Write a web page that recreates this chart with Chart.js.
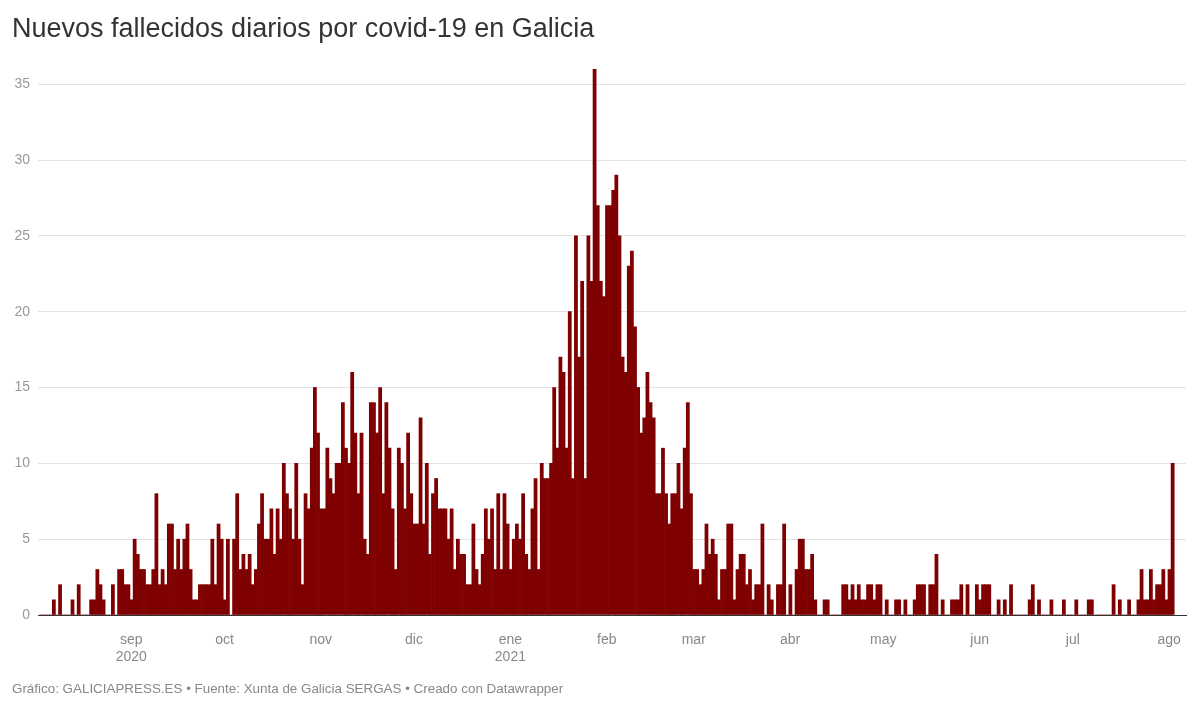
<!DOCTYPE html>
<html lang="es">
<head>
<meta charset="utf-8">
<title>Nuevos fallecidos diarios por covid-19 en Galicia</title>
<script src="https://cdn.jsdelivr.net/npm/chart.js@4.4.1/dist/chart.umd.min.js"></script>
<style>
    body { margin: 0; background: #fff; font-family: "Liberation Sans", Arial, sans-serif; }
    #title { position: absolute; left: 12px; top: 12px; font-size: 27px; line-height: 32px; color: #333; white-space: nowrap; }
    #wrap { position: absolute; left: 0; top: 0; width: 1199px; height: 709px; }
    #footer { position: absolute; left: 12px; top: 681px; font-size: 13.4px; line-height: 16px; color: #888; white-space: nowrap; }
</style>
</head>
<body>
<div id="wrap"><canvas id="chart"></canvas></div>
<div id="title">Nuevos fallecidos diarios por covid-19 en Galicia</div>
<div id="footer">Gráfico: GALICIAPRESS.ES • Fuente: Xunta de Galicia SERGAS • Creado con Datawrapper</div>
<script>
(function() {

    /*Daily deaths, one array per month (first value = 2 ago 2020)*/
    var ago2020 = [0,0,0,0,1,0,2,0,0,0,1,0,2,0,0,0,1,1,3,2,1,0,0,2,0,3,3,2,2,1];
    var sep2020 = [5,4,3,3,2,2,3,8,2,3,2,6,6,3,5,3,5,6,3,1,1,2,2,2,2,5,2,6,5,1];
    var oct2020 = [5,0,5,8,3,4,3,4,2,3,6,8,5,5,7,4,7,5,10,8,7,5,10,5,2,8,7,11,15,12,7];
    var nov2020 = [7,11,9,8,10,10,14,11,10,16,12,8,12,5,4,14,14,12,15,8,14,11,7,3,11,10,7,12,8,6];
    var dic2020 = [6,13,6,10,4,8,9,7,7,7,5,7,3,5,4,4,2,2,6,3,2,4,7,5,7,3,8,3,8,6,3];
    var ene2021 = [5,6,5,8,4,3,7,9,3,10,9,9,10,15,11,17,16,11,20,9,25,17,22,9,25,22,36,27,22,21,27];
    var feb2021 = [27,28,29,25,17,16,23,24,19,15,12,13,16,14,13,8,8,11,8,6,8,8,10,7,11,14,8,3];
    var mar2021 = [3,2,3,6,4,5,4,1,3,3,6,6,1,3,4,4,2,3,1,2,2,6,0,2,1,0,2,2,6,0,2];
    var abr2021 = [0,3,5,5,3,3,4,1,0,0,1,1,0,0,0,0,2,2,1,2,1,2,1,1,2,2,1,2,2,0];
    var may2021 = [1,0,0,1,1,0,1,0,0,1,2,2,2,0,2,2,4,0,1,0,0,1,1,1,2,0,2,0,0,2,1];
    var jun2021 = [2,2,2,0,0,1,0,1,0,2,0,0,0,0,0,1,2,0,1,0,0,0,1,0,0,0,1,0,0,0];
    var jul2021 = [1,0,0,0,1,1,0,0,0,0,0,0,2,0,1,0,0,1,0,0,1,3,1,1,3,1,2,2,3,1,3];
    var ago2021 = [10];

    /*Tick labels*/
    var monthLabels = ['sep','oct','nov','dic','ene','feb','mar','abr','may','jun','jul','ago'];
    var yearLabels  = ['2020','','','','2021','','','','','','',''];
    var yTicks = [0,5,10,15,20,25,30,35];

    /*Build series*/
    var months = [ago2020, sep2020, oct2020, nov2020, dic2020, ene2021,
                  feb2021, mar2021, abr2021, may2021, jun2021, jul2021, ago2021];
    var values = [];
    var monthStarts = [];
    months.forEach(function(m, i){
        if (i > 0) monthStarts.push(values.length);
        values = values.concat(m);
    });
    /*bar sits just right of its day tick, like the original*/
    var points = values.map(function(v, i){ return {x: i + 1.1, y: v}; });

    /*White background*/
    var bgPlugin = {
        id: 'bg',
        beforeDraw: function(chart){
            var ctx = chart.ctx;
            ctx.save();
            ctx.fillStyle = '#fff';
            ctx.fillRect(0, 0, chart.width, chart.height);
            ctx.restore();
        }
    };

    var tickFont = {family: '"Liberation Sans", Arial, sans-serif', size: 14};

    new Chart(document.getElementById('chart'), {
        type: 'bar',
        data: {
            datasets: [{
                data: points,
                backgroundColor: '#7f0000',
                borderWidth: 0,
                barPercentage: 1,
                categoryPercentage: 1
            }]
        },
        plugins: [bgPlugin],
        options: {
            responsive: true,
            maintainAspectRatio: false,
            devicePixelRatio: 1,
            animation: false,
            layout: {padding: {top: 69, right: 13, bottom: 34, left: 0}},
            plugins: {legend: {display: false}, tooltip: {enabled: false}},
            scales: {
                x: {
                    type: 'linear',
                    min: 0,
                    max: 369.4,
                    offset: false,
                    z: 1,
                    grid: {display: false},
                    border: {display: true, color: '#333', width: 1},
                    afterBuildTicks: function(scale){
                        scale.ticks = monthStarts.map(function(v){ return {value: v}; });
                    },
                    afterFit: function(scale){ scale.height = 60; },
                    ticks: {
                        autoSkip: false,
                        maxRotation: 0,
                        padding: 9,
                        color: '#888',
                        font: tickFont,
                        callback: function(value){
                            var i = monthStarts.indexOf(value);
                            if (i == -1) return '';
                            return yearLabels[i] ? [monthLabels[i], yearLabels[i]] : monthLabels[i];
                        }
                    }
                },
                y: {
                    min: 0,
                    max: 36,
                    grid: {
                        drawTicks: false,
                        color: function(ctx){ return ctx.tick && ctx.tick.value === 0 ? 'rgba(0,0,0,0)' : '#e3e3e3'; }
                    },
                    border: {display: false},
                    afterBuildTicks: function(scale){
                        scale.ticks = yTicks.map(function(v){ return {value: v}; });
                    },
                    afterFit: function(scale){ scale.width = 38; },
                    ticks: {padding: 8, color: '#999', font: tickFont}
                }
            }
        }
    });
}());
</script>
</body>
</html>
